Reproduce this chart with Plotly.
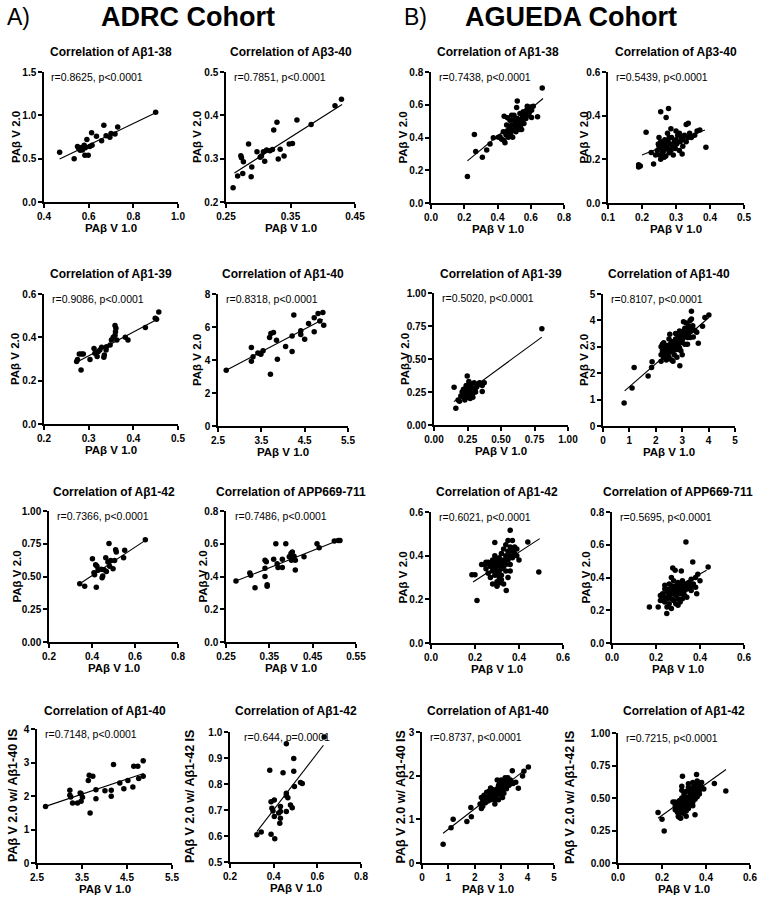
import plotly.graph_objects as go

FONT = "Arial, 'Liberation Sans', Helvetica, sans-serif"

# ================= DATA: (PAβ V 1.0, PAβ V 2.0) pairs =================
# ---- ADRC cohort ----
adrc_ab138 = [(0.47,0.573),(0.535,0.50),(0.55,0.64),(0.556,0.615),(0.562,0.596),(0.568,0.63),(0.572,0.60),
              (0.58,0.654),(0.585,0.625),(0.583,0.54),(0.592,0.72),(0.598,0.54),(0.605,0.64),(0.613,0.80),
              (0.615,0.655),(0.635,0.758),(0.658,0.708),(0.668,0.885),(0.678,0.765),(0.695,0.746),(0.70,0.79),
              (0.718,0.785),(0.73,0.865),(0.90,1.035)]
adrc_ab138_fit = [(0.47,0.496),(0.90,1.03)]

adrc_ab340 = [(0.261,0.233),(0.268,0.260),(0.273,0.307),(0.274,0.302),(0.276,0.266),(0.277,0.293),(0.285,0.334),
              (0.290,0.281),(0.289,0.258),(0.298,0.316),(0.303,0.303),(0.305,0.306),(0.308,0.316),(0.31,0.294),
              (0.313,0.32),(0.318,0.318),(0.322,0.321),(0.324,0.366),(0.329,0.384),(0.331,0.299),(0.334,0.322),
              (0.340,0.306),(0.348,0.334),(0.353,0.335),(0.360,0.389),(0.382,0.379),(0.419,0.422),(0.429,0.437)]
adrc_ab340_fit = [(0.263,0.267),(0.43,0.425)]

adrc_ab139 = [(0.273,0.288),(0.275,0.298),(0.279,0.323),(0.284,0.323),(0.283,0.249),(0.288,0.323),(0.303,0.298),
              (0.312,0.349),(0.314,0.326),(0.319,0.311),(0.321,0.334),(0.325,0.342),(0.329,0.354),(0.334,0.308),
              (0.335,0.318),(0.339,0.342),(0.340,0.357),(0.348,0.365),(0.351,0.388),(0.355,0.40),(0.359,0.41),
              (0.359,0.455),(0.361,0.442),(0.363,0.388),(0.360,0.426),(0.382,0.40),(0.388,0.388),(0.427,0.445),
              (0.449,0.488),(0.452,0.483),(0.457,0.517)]
adrc_ab139_fit = [(0.273,0.285),(0.457,0.487)]

adrc_ab140 = [(2.69,3.38),(3.27,4.76),(3.27,3.93),(3.31,4.19),(3.42,4.43),(3.49,4.35),(3.54,4.56),(3.47,4.40),
              (3.69,5.37),(3.72,5.61),(3.78,5.67),(3.71,3.13),(3.85,5.20),(3.87,4.05),(4.06,4.82),(4.21,4.52),
              (4.21,5.45),(4.25,6.72),(4.41,5.77),(4.41,5.55),(4.50,5.26),(4.59,6.21),(4.72,5.71),(4.72,6.56),
              (4.81,6.82),(4.92,6.88),(4.94,6.11),(4.85,6.36)]
adrc_ab140_fit = [(2.69,3.38),(4.92,6.46)]

adrc_ab142 = [(0.343,0.445),(0.366,0.425),(0.402,0.636),(0.409,0.529),(0.412,0.514),(0.417,0.59),(0.423,0.578),
              (0.42,0.417),(0.428,0.547),(0.443,0.555),(0.447,0.491),(0.45,0.504),(0.456,0.552),(0.464,0.644),
              (0.467,0.539),(0.474,0.611),(0.479,0.751),(0.482,0.578),(0.487,0.623),(0.498,0.56),(0.505,0.623),
              (0.51,0.705),(0.513,0.687),(0.547,0.644),(0.552,0.70),(0.648,0.781)]
adrc_ab142_fit = [(0.343,0.445),(0.648,0.776)]

adrc_app = [(0.273,0.373),(0.317,0.332),(0.305,0.422),(0.307,0.407),(0.34,0.50),(0.343,0.49),(0.34,0.45),
            (0.34,0.40),(0.345,0.35),(0.345,0.34),(0.36,0.505),(0.365,0.60),(0.368,0.478),(0.37,0.455),
            (0.38,0.505),(0.38,0.455),(0.388,0.60),(0.396,0.52),(0.40,0.54),(0.401,0.50),(0.407,0.523),
            (0.403,0.55),(0.41,0.44),(0.41,0.50),(0.43,0.52),(0.46,0.60),(0.465,0.575),(0.50,0.617),
            (0.509,0.62),(0.513,0.62)]
adrc_app_fit = [(0.273,0.373),(0.51,0.621)]

adrc_ab140_is = [(2.69,1.69),(3.23,2.17),(3.23,2.02),(3.25,1.97),(3.29,1.79),(3.40,1.79),(3.46,2.09),(3.48,2.07),
                 (3.48,1.84),(3.51,1.96),(3.64,2.46),(3.66,2.62),(3.68,1.49),(3.74,2.59),(3.81,1.92),(3.81,2.19),
                 (4.01,2.16),(4.15,1.99),(4.15,2.17),(4.20,2.94),(4.34,2.39),(4.43,2.22),(4.52,2.46),(4.63,2.27),
                 (4.65,2.89),(4.74,2.89),(4.76,2.52),(4.86,3.05),(4.86,2.59)]
adrc_ab140_is_fit = [(2.69,1.69),(4.87,2.67)]

adrc_ab142_is = [(0.323,0.605),(0.343,0.615),(0.382,0.853),(0.388,0.607),(0.388,0.732),(0.392,0.707),(0.397,0.696),
                 (0.403,0.738),(0.403,0.675),(0.405,0.589),(0.423,0.688),(0.428,0.649),(0.431,0.668),(0.431,0.694),
                 (0.431,0.713),(0.443,0.843),(0.458,0.694),(0.458,0.764),(0.458,0.755),(0.465,0.747),(0.458,0.955),
                 (0.477,0.719),(0.485,0.709),(0.492,0.849),(0.492,0.898),(0.495,0.79),(0.523,0.806),(0.531,0.802),
                 (0.631,0.981)]
adrc_ab142_is_fit = [(0.323,0.617),(0.628,0.949)]

# ---- AGUEDA cohort ----
agueda_ab138 = [(0.219,0.162),(0.261,0.419),(0.269,0.314),(0.309,0.279),(0.335,0.324),(0.355,0.36),(0.375,0.399),
                (0.405,0.401),(0.415,0.405),(0.425,0.389),(0.439,0.381),(0.445,0.368),(0.451,0.415),(0.459,0.435),
                (0.465,0.401),(0.471,0.455),(0.479,0.425),(0.485,0.476),(0.491,0.445),(0.495,0.506),(0.499,0.536),
                (0.505,0.466),(0.511,0.435),(0.515,0.486),(0.519,0.516),(0.525,0.455),(0.531,0.496),(0.535,0.547),
                (0.539,0.476),(0.545,0.506),(0.551,0.526),(0.555,0.557),(0.559,0.486),(0.565,0.536),(0.571,0.516),
                (0.575,0.567),(0.581,0.536),(0.585,0.577),(0.591,0.551),(0.599,0.587),(0.605,0.567),(0.615,0.591),
                (0.579,0.591),(0.569,0.547),(0.485,0.536),(0.475,0.506),(0.455,0.476),(0.435,0.435),(0.491,0.401),
                (0.515,0.583),(0.545,0.449),(0.519,0.623),(0.605,0.522),(0.641,0.526),(0.669,0.702),(0.535,0.449),
                (0.44,0.53),(0.46,0.52)]
agueda_ab138_fit = [(0.219,0.257),(0.674,0.638)]

agueda_ab340 = [(0.245,0.24),(0.25,0.26),(0.252,0.22),(0.255,0.28),(0.258,0.25),(0.26,0.23),(0.262,0.27),(0.265,0.24),
                (0.267,0.29),(0.27,0.215),(0.272,0.26),(0.275,0.25),(0.277,0.28),(0.28,0.23),(0.282,0.27),(0.285,0.24),
                (0.287,0.30),(0.29,0.26),(0.292,0.22),(0.295,0.28),(0.298,0.25),(0.30,0.29),(0.302,0.27),(0.305,0.31),
                (0.31,0.24),(0.312,0.28),(0.315,0.30),(0.318,0.225),(0.32,0.29),(0.325,0.31),(0.33,0.28),(0.335,0.30),
                (0.34,0.32),(0.345,0.30),(0.355,0.31),(0.362,0.33),(0.25,0.30),(0.255,0.20),(0.265,0.21),(0.24,0.22),
                (0.275,0.32),(0.285,0.34),(0.30,0.33),(0.33,0.36),(0.27,0.28),(0.26,0.26),(0.28,0.30),(0.32,0.26),
                (0.31,0.32),(0.248,0.27),(0.212,0.324),(0.19,0.175),(0.19,0.165),(0.195,0.17),(0.234,0.179),
                (0.227,0.231),(0.255,0.418),(0.278,0.433),(0.271,0.392),(0.388,0.255),(0.37,0.334),(0.336,0.365)]
agueda_ab340_fit = [(0.20,0.22),(0.385,0.334)]

agueda_ab139 = [(0.20,0.22),(0.21,0.25),(0.22,0.24),(0.22,0.21),(0.23,0.26),(0.23,0.23),(0.24,0.28),(0.24,0.24),
                (0.24,0.21),(0.25,0.25),(0.25,0.30),(0.25,0.22),(0.26,0.27),(0.26,0.24),(0.26,0.21),(0.27,0.26),
                (0.27,0.29),(0.27,0.23),(0.28,0.25),(0.28,0.31),(0.28,0.22),(0.29,0.27),(0.29,0.24),(0.30,0.26),
                (0.30,0.32),(0.31,0.28),(0.31,0.25),(0.32,0.29),(0.33,0.31),(0.34,0.32),(0.35,0.31),(0.36,0.30),
                (0.23,0.19),(0.24,0.30),(0.26,0.33),(0.27,0.20),(0.22,0.27),(0.29,0.21),(0.25,0.27),(0.23,0.25),
                (0.15,0.286),(0.163,0.127),(0.18,0.19),(0.19,0.18),(0.248,0.372),(0.343,0.316),(0.375,0.32),
                (0.36,0.253),(0.805,0.729)]
agueda_ab139_fit = [(0.148,0.177),(0.805,0.666)]

agueda_ab140 = [(2.2,2.7),(2.2,3.0),(2.25,2.85),(2.3,2.6),(2.3,3.15),(2.35,2.75),(2.35,2.95),(2.4,2.5),(2.4,2.85),
                (2.45,3.05),(2.45,2.7),(2.5,2.9),(2.5,2.6),(2.55,3.1),(2.55,2.8),(2.6,3.0),(2.6,2.5),(2.6,3.2),
                (2.65,2.85),(2.7,3.1),(2.7,2.7),(2.75,3.3),(2.75,2.95),(2.8,3.2),(2.8,2.9),(2.85,3.4),(2.85,3.05),
                (2.9,3.6),(2.9,3.3),(2.9,2.95),(2.95,3.45),(2.95,3.15),(3.0,3.5),(3.0,3.25),(3.0,2.7),(3.05,3.6),
                (3.05,3.35),(3.1,3.7),(3.1,3.45),(3.1,3.1),(3.15,3.55),(3.15,3.9),(3.2,3.65),(3.2,3.35),(3.25,3.8),
                (3.25,3.5),(3.3,3.7),(3.3,4.0),(3.35,3.6),(3.4,3.8),(2.65,2.45),(2.8,2.6),(2.5,3.3),(2.75,3.5),
                (3.05,3.95),(3.35,4.05),(2.45,2.9),(2.95,2.85),(3.2,3.1),(3.3,3.35),
                (0.8,0.87),(1.1,1.44),(1.18,2.22),(1.71,1.89),(1.84,2.22),(1.86,2.43),(2.53,3.48),(2.91,2.28),
                (3.35,4.35),(3.61,3.13),(3.77,3.78),(3.86,4.11),(4.01,4.2),(3.48,3.63),(3.42,3.37),(3.55,3.55),
                (2.25,3.1),(2.2,2.45)]
agueda_ab140_fit = [(0.82,1.33),(4.01,4.11)]

agueda_ab142 = [(0.24,0.36),(0.25,0.34),(0.26,0.37),(0.26,0.32),(0.27,0.35),(0.27,0.30),(0.28,0.38),(0.28,0.33),
                (0.28,0.36),(0.29,0.31),(0.29,0.34),(0.29,0.37),(0.29,0.40),(0.30,0.35),(0.30,0.32),(0.30,0.38),
                (0.30,0.28),(0.31,0.36),(0.31,0.33),(0.31,0.39),(0.31,0.30),(0.32,0.37),(0.32,0.34),(0.32,0.41),
                (0.32,0.31),(0.33,0.38),(0.33,0.35),(0.33,0.43),(0.33,0.27),(0.34,0.40),(0.34,0.36),(0.34,0.33),
                (0.34,0.45),(0.35,0.42),(0.35,0.38),(0.35,0.47),(0.35,0.30),(0.36,0.40),(0.36,0.44),(0.36,0.36),
                (0.37,0.42),(0.37,0.47),(0.37,0.39),(0.38,0.41),(0.38,0.44),(0.39,0.40),(0.39,0.43),(0.40,0.38),
                (0.30,0.26),(0.28,0.27),(0.32,0.29),(0.36,0.33),(0.25,0.37),(0.23,0.36),
                (0.186,0.313),(0.20,0.313),(0.209,0.195),(0.29,0.46),(0.31,0.275),(0.342,0.241),(0.36,0.516),
                (0.44,0.463),(0.49,0.325),(0.255,0.363)]
agueda_ab142_fit = [(0.191,0.279),(0.494,0.478)]

agueda_app = [(0.21,0.22),(0.22,0.29),(0.23,0.26),(0.23,0.30),(0.24,0.28),(0.24,0.25),(0.25,0.31),(0.25,0.27),
              (0.25,0.22),(0.26,0.29),(0.26,0.33),(0.26,0.24),(0.27,0.31),(0.27,0.27),(0.27,0.35),(0.27,0.21),
              (0.28,0.30),(0.28,0.33),(0.28,0.26),(0.28,0.38),(0.29,0.32),(0.29,0.29),(0.29,0.35),(0.29,0.24),
              (0.30,0.31),(0.30,0.34),(0.30,0.27),(0.30,0.37),(0.31,0.33),(0.31,0.30),(0.31,0.36),(0.31,0.25),
              (0.32,0.34),(0.32,0.31),(0.32,0.38),(0.33,0.35),(0.33,0.32),(0.33,0.29),(0.34,0.36),(0.34,0.33),
              (0.35,0.37),(0.35,0.34),(0.36,0.35),(0.36,0.39),(0.37,0.36),(0.38,0.34),(0.38,0.40),(0.39,0.42),
              (0.40,0.38),(0.36,0.32),(0.34,0.28),(0.26,0.36),(0.24,0.33),(0.30,0.23),(0.32,0.27),(0.22,0.26),
              (0.17,0.22),(0.336,0.617),(0.276,0.458),(0.287,0.444),(0.367,0.495),(0.385,0.30),(0.437,0.464),
              (0.249,0.18),(0.24,0.352),(0.315,0.44),(0.27,0.40)]
agueda_app_fit = [(0.211,0.281),(0.43,0.444)]

agueda_ab140_is = [(2.2,1.35),(2.25,1.5),(2.3,1.42),(2.3,1.3),(2.35,1.55),(2.4,1.45),(2.4,1.38),(2.45,1.5),
                   (2.5,1.58),(2.5,1.42),(2.55,1.52),(2.6,1.72),(2.6,1.45),(2.65,1.55),(2.65,1.62),(2.7,1.5),
                   (2.7,1.68),(2.75,1.58),(2.8,1.62),(2.8,1.5),(2.85,1.9),(2.85,1.7),(2.9,1.58),(2.9,1.78),
                   (2.95,1.65),(2.95,1.85),(3.0,1.72),(3.0,1.55),(3.0,1.9),(3.05,1.68),(3.05,1.8),(3.1,1.75),
                   (3.1,1.88),(3.1,1.6),(3.15,1.95),(3.15,1.82),(3.2,1.7),(3.2,1.9),(3.25,1.85),(3.25,1.95),
                   (3.3,1.78),(3.35,1.9),(3.4,1.85),(3.45,1.82),(2.45,1.62),(2.55,1.65),(2.75,1.45),(2.9,1.45),
                   (3.05,1.5),(2.35,1.4),(2.6,1.55),(2.95,1.7),(3.2,1.78),(2.7,1.6),
                   (0.8,0.43),(1.1,0.81),(1.18,1.0),(1.7,0.95),(1.87,1.06),(1.85,1.27),(2.76,1.35),(3.42,2.11),
                   (3.65,1.71),(3.81,1.99),(3.86,2.1),(4.03,2.2),(3.55,1.85),(2.25,1.25)]
agueda_ab140_is_fit = [(0.8,0.68),(4.05,2.2)]

agueda_ab142_is = [(0.25,0.47),(0.26,0.44),(0.26,0.41),(0.27,0.46),(0.27,0.42),(0.27,0.39),(0.28,0.45),(0.28,0.48),
                   (0.28,0.41),(0.28,0.35),(0.29,0.44),(0.29,0.50),(0.29,0.47),(0.29,0.40),(0.29,0.56),(0.30,0.46),
                   (0.30,0.49),(0.30,0.43),(0.30,0.53),(0.30,0.38),(0.31,0.50),(0.31,0.47),(0.31,0.44),(0.31,0.55),
                   (0.32,0.51),(0.32,0.48),(0.32,0.58),(0.32,0.45),(0.32,0.61),(0.33,0.53),(0.33,0.50),(0.33,0.56),
                   (0.33,0.47),(0.34,0.54),(0.34,0.51),(0.34,0.58),(0.34,0.62),(0.34,0.44),(0.35,0.55),(0.35,0.52),
                   (0.35,0.60),(0.35,0.49),(0.36,0.57),(0.36,0.54),(0.36,0.63),(0.36,0.51),(0.37,0.56),(0.37,0.60),
                   (0.37,0.53),(0.38,0.58),(0.38,0.62),(0.39,0.57),(0.28,0.38),(0.30,0.42),(0.26,0.47),(0.32,0.42),
                   (0.34,0.47),(0.31,0.40),
                   (0.182,0.388),(0.2,0.337),(0.21,0.247),(0.274,0.357),(0.285,0.345),(0.293,0.668),(0.35,0.372),
                   (0.31,0.36),(0.438,0.612),(0.49,0.554),(0.357,0.681),(0.29,0.59)]
agueda_ab142_is_fit = [(0.182,0.344),(0.491,0.719)]

# statistics text and labels
stats = ["r=0.8625, p<0.0001", "r=0.7851, p<0.0001", "r=0.7438, p<0.0001", "r=0.5439, p<0.0001",
         "r=0.9086, p<0.0001", "r=0.8318, p<0.0001", "r=0.5020, p<0.0001", "r=0.8107, p<0.0001",
         "r=0.7366, p<0.0001", "r=0.7486, p<0.0001", "r=0.6021, p<0.0001", "r=0.5695, p<0.0001",
         "r=0.7148, p<0.0001", "r=0.644, p=0.0001", "r=0.8737, p<0.0001", "r=0.7215, p<0.0001"]
titles = ["Correlation of Aβ1-38", "Correlation of Aβ3-40", "Correlation of Aβ1-38", "Correlation of Aβ3-40",
          "Correlation of Aβ1-39", "Correlation of Aβ1-40", "Correlation of Aβ1-39", "Correlation of Aβ1-40",
          "Correlation of Aβ1-42", "Correlation of APP669-711", "Correlation of Aβ1-42", "Correlation of APP669-711",
          "Correlation of Aβ1-40", "Correlation of Aβ1-42", "Correlation of Aβ1-40", "Correlation of Aβ1-42"]
ytitles = ["PAβ V 2.0"] * 12 + ["PAβ V 2.0 w/ Aβ1-40 IS", "PAβ V 2.0 w/ Aβ1-42 IS",
                                "PAβ V 2.0 w/ Aβ1-40 IS", "PAβ V 2.0 w/ Aβ1-42 IS"]
xtitle = "PAβ V 1.0"

series = [adrc_ab138, adrc_ab340, agueda_ab138, agueda_ab340,
          adrc_ab139, adrc_ab140, agueda_ab139, agueda_ab140,
          adrc_ab142, adrc_app, agueda_ab142, agueda_app,
          adrc_ab140_is, adrc_ab142_is, agueda_ab140_is, agueda_ab142_is]
fits = [adrc_ab138_fit, adrc_ab340_fit, agueda_ab138_fit, agueda_ab340_fit,
        adrc_ab139_fit, adrc_ab140_fit, agueda_ab139_fit, agueda_ab140_fit,
        adrc_ab142_fit, adrc_app_fit, agueda_ab142_fit, agueda_app_fit,
        adrc_ab140_is_fit, adrc_ab142_is_fit, agueda_ab140_is_fit, agueda_ab142_is_fit]

# axis scales: (min, max, step, format)
xscales = [(0.4,1.0,0.2,".1f"), (0.25,0.45,0.1,".2f"), (0,0.8,0.2,".1f"), (0.1,0.5,0.1,".1f"),
           (0.2,0.5,0.1,".1f"), (2.5,5.5,1,".1f"), (0,1,0.25,".2f"), (0,5,1,"d"),
           (0.2,0.8,0.2,".1f"), (0.25,0.55,0.1,".2f"), (0,0.6,0.2,".1f"), (0,0.6,0.2,".1f"),
           (2.5,5.5,1,".1f"), (0.2,0.8,0.2,".1f"), (0,5,1,"d"), (0,0.6,0.2,".1f")]
yscales = [(0,1.5,0.5,".1f"), (0.2,0.5,0.1,".1f"), (0,0.8,0.2,".1f"), (0,0.6,0.2,".1f"),
           (0,0.6,0.2,".1f"), (0,8,2,"d"), (0,1,0.25,".2f"), (0,5,1,"d"),
           (0,1,0.25,".2f"), (0,0.8,0.2,".1f"), (0,0.6,0.2,".1f"), (0,0.8,0.2,".1f"),
           (0,4,1,"d"), (0.5,1.0,0.1,".1f"), (0,3,1,"d"), (0,1,0.25,".2f")]

# ================= LAYOUT (pixel boxes: left, right, top, bottom) =================
W, H = 761, 899
boxes = [(44,178,72,202), (226,355,72,202), (431,564,72,203), (608,744,72,203),
         (44,178,294,424), (218,348,294,426), (434,568,293,425), (603,735,294,426),
         (49,178,511,642), (226,356,511,642), (431,563,512,643), (612,744,512,643),
         (37,172,729,863), (230,361,732,862), (422,554,732,863), (618,750,733,863)]
title_rows = [52, 274, 492, 711]
ytitle_off = [28, 29, 29, 25, 29, 21, 29, 19, 33, 24, 29, 27, 24, 40, 22, 48]
stat_off = [5, 6, 6, 6, 6, 6, 6, 6, 6, 7, 6, 6, 6, 12, 6, 6]


def px(x):
    return x / W


def py(y):
    return 1 - y / H


fig = go.Figure()
annotations = []
for i in range(16):
    n = i + 1
    l, r, t, b = boxes[i]
    xs = [p[0] for p in series[i]]
    ys = [p[1] for p in series[i]]
    fx = [p[0] for p in fits[i]]
    fy = [p[1] for p in fits[i]]
    xa = "x" if n == 1 else f"x{n}"
    ya = "y" if n == 1 else f"y{n}"
    fig.add_trace(go.Scatter(x=fx, y=fy, mode="lines", xaxis=xa, yaxis=ya,
                             line=dict(color="black", width=1.1), hoverinfo="skip", cliponaxis=False))
    fig.add_trace(go.Scatter(x=xs, y=ys, mode="markers", xaxis=xa, yaxis=ya,
                             marker=dict(color="black", size=5.5, line=dict(width=0)), cliponaxis=False))
    x0, x1, xd, xf = xscales[i]
    y0, y1, yd, yf = yscales[i]
    common = dict(showline=True, linecolor="black", linewidth=1.5, ticks="outside", ticklen=4,
                  tickwidth=1.5, tickcolor="black", showgrid=False, zeroline=False, fixedrange=True,
                  automargin=False, tickprefix="<b>", ticksuffix="</b>",
                  tickfont=dict(family=FONT, size=10, color="black", weight=700))
    fig.layout[f"xaxis{'' if n == 1 else n}"] = dict(
        domain=[px(l), px(r)], range=[x0, x1], tick0=x0, dtick=xd, tickformat=xf, anchor=ya, **common)
    fig.layout[f"yaxis{'' if n == 1 else n}"] = dict(
        domain=[py(b), py(t)], range=[y0, y1], tick0=y0, dtick=yd, tickformat=yf, anchor=xa, **common)

    row = i // 4
    annotations.append(dict(x=px((l + r) / 2), y=py(title_rows[row]), text=f"<b>{titles[i]}</b>",
                            font=dict(family=FONT, size=12, color="black")))
    annotations.append(dict(x=px(l + stat_off[i]), y=py(t + 5), text=stats[i], xanchor="left",
                            font=dict(family=FONT, size=10.5, color="black")))
    annotations.append(dict(x=px((l + r) / 2), y=py(b + 26), text=f"<b>{xtitle}</b>",
                            font=dict(family=FONT, size=11.5, color="black")))
    ysz = 12.5 if i >= 12 else 11.5
    annotations.append(dict(x=px(l - ytitle_off[i]), y=py((t + b) / 2), text=f"<b>{ytitles[i]}</b>",
                            textangle=-90, font=dict(family=FONT, size=ysz, color="black")))

# cohort headers
annotations.append(dict(x=px(5), y=py(17), text="A)", xanchor="left",
                        font=dict(family=FONT, size=23, color="black")))
annotations.append(dict(x=px(188), y=py(17), text="<b>ADRC Cohort</b>",
                        font=dict(family=FONT, size=27, color="black")))
annotations.append(dict(x=px(402), y=py(17), text="B)", xanchor="left",
                        font=dict(family=FONT, size=23, color="black")))
annotations.append(dict(x=px(571), y=py(17), text="<b>AGUEDA Cohort</b>",
                        font=dict(family=FONT, size=27, color="black")))

for a in annotations:
    a.setdefault("xref", "paper")
    a.setdefault("yref", "paper")
    a.setdefault("xanchor", "center")
    a.setdefault("yanchor", "middle")
    a.setdefault("showarrow", False)

fig.update_layout(width=W, height=H, margin=dict(l=0, r=0, t=0, b=0, autoexpand=False), showlegend=False,
                  plot_bgcolor="white", paper_bgcolor="white", annotations=annotations,
                  font=dict(family=FONT, color="black"))

fig.write_html("out.html", config={"displayModeBar": False},
               post_script="document.body.style.margin='0';document.body.style.overflow='hidden';")
